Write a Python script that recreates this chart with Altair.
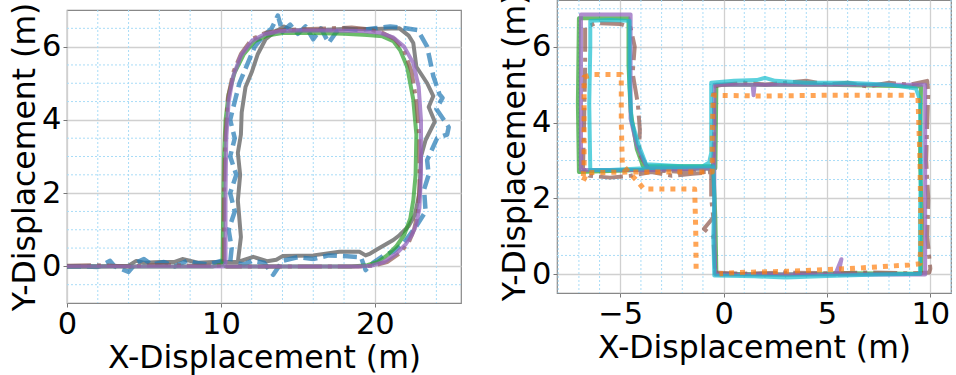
import altair as alt
import pandas as pd

# ---------------- Left panel data ----------------
L_X_DOMAIN = [0, 25.6]
L_Y_DOMAIN = [-1.0, 7.0]
L_X_TICKS = [0, 10, 20]
L_Y_TICKS = [0, 2, 4, 6]
L_X_MINOR = [2, 4, 6, 8, 12, 14, 16, 18, 22, 24]
L_Y_MINOR = [-0.5, 0.5, 1, 1.5, 2.5, 3, 3.5, 4.5, 5, 5.5, 6.5]

L_gray_x = [0, 2, 4, 4.5, 5.0, 6.0, 7.0, 7.5, 8.5, 9.5, 10.5, 11.1, 11.3, 11.1, 11.25, 11.1, 11.3, 11.35, 11.6, 12.0,
            12.4, 12.9, 13.5, 14.1, 14.6, 16.0, 18.0, 20.0, 21.6, 22.2, 22.5, 22.7, 23.4, 23.8, 23.5, 23.9, 23.3, 23.0, 22.9, 22.6,
            22.2, 21.6, 21.2, 20.3, 19.7, 19.4, 19.0, 17.7, 16.0, 14.0, 13.6, 13.0, 12.1, 11.3]
L_gray_y = [0, 0, 0.02, 0.15, 0.1, 0.12, 0.12, 0.2, 0.1, 0.12, 0.12, 0.12, 0.8, 1.8, 2.5, 3.1, 3.6, 4.2, 4.9, 5.3,
            5.8, 6.2, 6.4, 6.55, 6.45, 6.45, 6.48, 6.48, 6.5, 6.3, 6.1, 5.45, 5.0, 4.65, 4.35, 3.95, 3.45, 3.0, 2.0, 1.4,
            1.1, 0.85, 0.72, 0.5, 0.35, 0.3, 0.4, 0.4, 0.3, 0.28, 0.18, 0.14, 0.26, 0.15]

L_blue_x = [0, 1.0, 2.0, 2.8, 3.1, 4.0, 4.5, 5.0, 5.5, 6.3, 7.0, 7.8, 8.3, 9.2, 10.0, 10.6, 10.7, 10.5, 10.9, 10.6,
            11.0, 10.6, 10.9, 10.6, 10.9, 11.2, 11.7, 12.2, 12.8, 13.3, 13.7, 14.0, 14.5, 15.0, 15.5, 16.0, 16.5, 17.0, 17.5, 18.0,
            19.0, 20.0, 21.0, 22.0, 22.8, 23.4, 23.8, 24.2, 24.4, 24.0, 24.8, 24.7, 24.05, 23.4, 23.5, 23.2, 23.3, 22.7, 21.9, 21.2,
            20.6, 19.9, 19.4, 19.1, 18.0, 17.0, 16.0, 15.0, 14.0, 13.4, 12.8, 12.0, 11.5, 10.9]
L_blue_y = [0, 0.0, -0.02, 0.15, 0.0, -0.15, 0.1, 0.2, 0.05, 0.12, 0.0, 0.15, 0.1, 0.05, 0.15, 0.1, 0.5, 1.0, 1.5, 2.0,
            2.5, 3.0, 3.5, 4.0, 4.5, 5.0, 5.5, 6.0, 6.3, 6.5, 6.85, 6.4, 6.6, 6.35, 6.55, 6.2, 6.5, 6.1, 6.4, 6.5,
            6.45, 6.5, 6.55, 6.5, 6.45, 6.0, 5.2, 4.7, 4.6, 4.3, 3.8, 3.6, 3.5, 2.9, 2.5, 2.1, 1.5, 1.1, 0.65, 0.4,
            0.3, 0.1, -0.1, 0.25, 0.28, 0.3, 0.2, 0.25, 0.15, -0.23, 0.1, 0.15, 0.05, 0.1]

L_green_x = [0, 2, 4, 6, 8, 9.5, 10.1, 10.15, 10.2, 10.3, 10.5, 10.9, 11.5, 12.2, 13.0, 14.0, 16.0, 18.0, 19.5, 20.5,
             21.2, 21.65, 22.1, 22.5, 22.7, 22.65, 22.5, 22.3, 21.9, 21.4, 20.8, 20.2, 19.5, 18.5, 16.0, 14.0, 12.0, 10.3]
L_green_y = [0, 0, 0, 0, 0, 0, 0.05, 1.5, 3.0, 4.0, 4.7, 5.3, 5.8, 6.15, 6.3, 6.37, 6.37, 6.35, 6.32, 6.28,
             6.15, 5.9, 5.45, 4.55, 3.6, 2.5, 1.8, 1.3, 0.85, 0.55, 0.3, 0.12, 0.03, 0, 0, 0, 0, 0]

L_brown_x = [0, 2, 4, 6, 8, 10.1, 10.2, 10.2, 10.3, 10.45, 10.8, 11.3, 12.0, 12.9, 13.9, 15.0, 17.0, 18.5, 19.5, 20.5,
             21.3, 21.9, 22.4, 22.7, 22.9, 22.9, 22.8, 22.55, 22.2, 21.6, 20.8, 20.0, 19.3, 18.0, 16.0, 14.0, 12.0, 10.3]
L_brown_y = [0.02, 0.03, 0.0, 0.04, 0.02, 0.02, 0.1, 2.0, 3.6, 4.6, 5.3, 5.8, 6.2, 6.38, 6.45, 6.47, 6.5, 6.52, 6.48, 6.38,
             6.2, 5.9, 5.3, 4.5, 3.5, 2.2, 1.5, 1.0, 0.65, 0.35, 0.12, 0.03, 0.0, 0.0, 0.0, 0.0, 0.0, 0.0]

L_purple_x = [0, 2, 4, 6, 8, 10.2, 10.3, 10.3, 10.35, 10.5, 10.8, 11.3, 12.0, 12.8, 13.8, 15.0, 17.0, 19.0, 20.3, 21.2,
              21.9, 22.5, 22.85, 23.0, 23.0, 22.9, 22.7, 22.4, 22.0, 21.4, 20.6, 19.8, 19.0, 17.0, 15.0, 13.0, 11.0, 10.4]
L_purple_y = [0, 0, 0, 0, 0, 0, 0.1, 2.0, 3.5, 4.5, 5.2, 5.75, 6.15, 6.33, 6.42, 6.44, 6.44, 6.43, 6.38, 6.25,
              6.0, 5.55, 4.9, 4.0, 2.5, 1.6, 1.15, 0.85, 0.6, 0.35, 0.12, 0.02, 0, 0, 0, 0, 0, 0]

# ---------------- Right panel data ----------------
R_X_DOMAIN = [-8.06, 11.0]
R_Y_DOMAIN = [-0.49, 7.23]
R_X_TICKS = [-5, 0, 5, 10]
R_Y_TICKS = [0, 2, 4, 6]
R_X_MINOR = [-8, -7, -6, -4, -3, -2, -1, 1, 2, 3, 4, 6, 7, 8, 9, 11]
R_Y_MINOR = [0.5, 1, 1.5, 2.5, 3, 3.5, 4.5, 5, 5.5, 6.5, 7]

R_green_x = [-0.35, 3.0, 6.0, 9.55, 9.6, 9.5, 9.55, 5.0, 1.0, -0.35, -0.4, -2.0, -4.0, -7.0, -7.05, -7.0, -5.5, -4.6, -4.6, -4.5,
             -4.2, -3.9, -2.0, -0.5, -0.4, -0.35]
R_green_y = [0.02, 0.0, 0.03, 0.02, 1.5, 3.0, 4.95, 5.0, 5.0, 5.0, 2.8, 2.78, 2.75, 2.7, 4.5, 6.75, 6.75, 6.75, 5.5, 4.3,
             3.3, 2.85, 2.85, 2.85, 1.5, 0.02]

R_brown_x = [-0.5, 1.0, 3.0, 5.0, 7.0, 9.0, 9.95, 10.0, 9.85, 9.9, 9.8, 9.85, 9.9, 9.85, 9.0, 8.0, 7.0, 6.0, 5.0, 4.0,
             3.0, 2.0, 1.0, 0.0, -0.5, -0.45, -0.5, -0.55, -1.5, -2.5, -3.5, -4.5, -5.5, -6.5, -6.8, -6.75, -6.7, -6.7, -6.2, -5.0,
             -4.5, -4.3, -4.4, -4.15, -4.05, -4.1, -3.6, -2.0, -0.6, -0.6, -0.5, -0.95, -0.5, -0.45, -0.4]
R_brown_y = [0.05, 0.02, 0.05, 0.03, 0.05, 0.03, 0.05, 0.15, 1.0, 2.0, 3.0, 4.0, 4.8, 5.1, 5.0, 5.05, 4.95, 5.05, 5.0, 5.1,
             5.05, 5.0, 5.05, 5.0, 4.95, 4.0, 3.0, 2.7, 2.65, 2.6, 2.7, 2.6, 2.55, 2.6, 2.8, 4.0, 5.5, 6.5, 6.62, 6.6,
             6.5, 6.0, 5.3, 4.5, 3.8, 3.2, 2.75, 2.7, 2.7, 2.0, 1.5, 1.2, 1.0, 0.5, 0.05]

R_purple_x = [-0.4, 2.0, 5.4, 5.7, 5.55, 8.0, 9.75, 9.75, 9.75, 5.0, 1.5, 1.45, 1.4, -0.45, -0.45, -3.7, -6.9, -6.9, -6.9, -4.5,
              -4.5, -4.2, -3.7, -2.0, -0.45, -0.45, -0.4]
R_purple_y = [0.0, 0.0, 0.0, 0.4, 0.0, 0.0, 0.0, 2.5, 5.0, 5.0, 5.0, 4.72, 5.0, 5.0, 2.8, 2.75, 2.75, 5.0, 6.85, 6.85,
              4.1, 3.4, 2.8, 2.8, 2.8, 1.0, 0.0]

R_cyan_x = [-0.45, 1.5, 3.0, 5.0, 7.5, 9.5, 9.5, 9.55, 9.5, 9.3, 8.0, 6.0, 4.0, 2.5, 2.0, 1.6, 0.5, -0.6, -0.6, -0.6,
            -0.7, -1.0, -2.5, -3.8, -5.5, -6.45, -6.5, -6.45, -6.45, -5.5, -4.55, -4.55, -4.45, -4.1, -3.75, -2.0, -0.5, -0.45, -0.5, -0.45]
R_cyan_y = [-0.03, -0.05, -0.08, -0.04, 0.0, 0.02, 1.5, 3.0, 4.6, 4.9, 5.0, 5.05, 5.05, 5.1, 5.18, 5.12, 5.1, 5.05, 4.0, 3.2,
            2.95, 2.85, 2.82, 2.8, 2.75, 2.75, 4.5, 6.0, 6.68, 6.7, 6.68, 5.0, 4.05, 3.4, 2.9, 2.85, 2.85, 2.0, 1.0, -0.03]

R_orange_x = [-1.33, -1.35, -1.4, -2.5, -3.85, -4.2, -4.6, -4.9, -4.95, -4.95, -5.6, -6.3, -6.75, -6.75, -6.75, -6.8, -6.6, -4.0, -2.0, -0.55,
              -0.55, -0.5, 2.0, 5.0, 9.4, 9.5, 9.55, 9.5, 9.0, 6.0, 3.0, 0.7, -0.2]
R_orange_y = [0.15, 1.2, 2.25, 2.25, 2.25, 2.47, 2.7, 2.9, 4.0, 5.27, 5.27, 5.27, 5.2, 4.0, 2.9, 2.45, 2.68, 2.7, 2.7, 2.7,
              3.7, 4.72, 4.7, 4.72, 4.72, 3.0, 1.0, 0.28, 0.25, 0.15, 0.08, 0.05, 0.02]

FONT = "DejaVu Sans"
W, H = 394, 293


def df_of(xs, ys):
    return pd.DataFrame({"x": xs, "y": ys, "i": list(range(len(xs)))})


def panel(series, xdom, ydom, xticks, yticks, xminor, yminor):
    xs = alt.Scale(domain=xdom, nice=False, zero=False)
    ys = alt.Scale(domain=ydom, nice=False, zero=False)
    xax = alt.Axis(values=xticks, title="X-Displacement (m)", format="d", titlePadding=3)
    yax = alt.Axis(values=yticks, title="Y-Displacement (m)", format="d", titlePadding=0)
    layers = []
    layers.append(
        alt.Chart(pd.DataFrame({"x": xminor})).mark_rule(
            color="#a9dcf7", strokeWidth=1, strokeDash=[2, 2]
        ).encode(x=alt.X("x:Q", scale=xs, axis=xax))
    )
    layers.append(
        alt.Chart(pd.DataFrame({"y": yminor})).mark_rule(
            color="#a9dcf7", strokeWidth=1, strokeDash=[2, 2]
        ).encode(y=alt.Y("y:Q", scale=ys, axis=yax))
    )
    for xs_, ys_, color, dash, op, sw in series:
        kw = dict(color=color, strokeWidth=sw, opacity=op, clip=True, strokeJoin="round")
        if dash:
            kw["strokeDash"] = dash
        else:
            kw["strokeCap"] = "round"
        layers.append(
            alt.Chart(df_of(xs_, ys_)).mark_line(**kw).encode(
                x=alt.X("x:Q", scale=xs, axis=xax),
                y=alt.Y("y:Q", scale=ys, axis=yax),
                order=alt.Order("i:Q"),
            )
        )
    return alt.layer(*layers).properties(width=W, height=H)


left = panel(
    [
        (L_gray_x, L_gray_y, "#7f7f7f", None, 0.95, 4),
        (L_blue_x, L_blue_y, "#1f77b4", [14, 6], 0.7, 4.5),
        (L_green_x, L_green_y, "#2ca02c", None, 0.7, 4),
        (L_brown_x, L_brown_y, "#8c564b", [24, 6, 4, 6], 0.7, 4),
        (L_purple_x, L_purple_y, "#9467bd", None, 0.75, 4),
    ],
    L_X_DOMAIN, L_Y_DOMAIN, L_X_TICKS, L_Y_TICKS, L_X_MINOR, L_Y_MINOR,
)

right = panel(
    [
        (R_green_x, R_green_y, "#2ca02c", None, 0.7, 4),
        (R_brown_x, R_brown_y, "#8c564b", [24, 6, 4, 6], 0.7, 4),
        (R_purple_x, R_purple_y, "#9467bd", None, 0.75, 4),
        (R_cyan_x, R_cyan_y, "#17becf", None, 0.7, 4),
        (R_orange_x, R_orange_y, "#ff7f0e", [5, 6], 0.7, 5),
    ],
    R_X_DOMAIN, R_Y_DOMAIN, R_X_TICKS, R_Y_TICKS, R_X_MINOR, R_Y_MINOR,
)

# thin invisible spacer that pushes the left panel down a few pixels
spacer = alt.Chart(pd.DataFrame({"x": [0]})).mark_rule(strokeOpacity=0, strokeWidth=0).encode(
    x=alt.value(0), x2=alt.value(1), y=alt.value(0)
).properties(width=W, height=1, view=alt.ViewBackground(strokeOpacity=0, strokeWidth=0))

chart = alt.hconcat(
    alt.vconcat(spacer, left, spacing=0),
    right,
    spacing=35,
).properties(
    padding={"left": 8, "top": -9, "right": 0, "bottom": 8},
    background="white",
).configure_view(
    stroke="#888888", strokeWidth=1.2
).configure_axis(
    labelFont=FONT, titleFont=FONT, labelFontSize=30.5, titleFontSize=31.5,
    labelColor="black", titleColor="black", titleFontWeight="normal",
    grid=True, gridColor="#d0d0d0", gridWidth=1.3, labelFlush=False,
    domain=False, tickColor="#777777", tickSize=4, labelPadding=2,
)

chart.save("out.html", embed_options={"renderer": "svg", "actions": False})
